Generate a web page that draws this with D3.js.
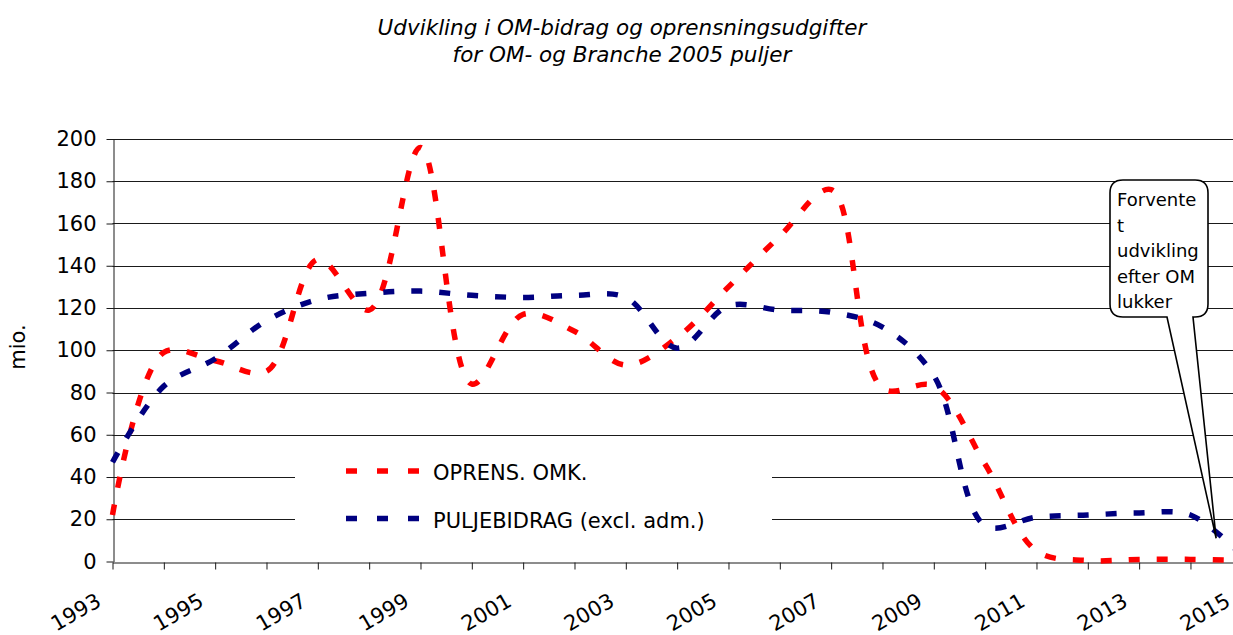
<!DOCTYPE html>
<html>
<head>
<meta charset="utf-8">
<script src="https://cdnjs.cloudflare.com/ajax/libs/d3/7.8.5/d3.min.js"></script>
<style>
  html, body { margin: 0; padding: 0; background: #fff; }
  svg { display: block; font-family: "DejaVu Sans", Verdana, sans-serif; }
</style>
</head>
<body>
<div id="chart"></div>
<script>
// data (mio.)
var years = [1993, 1994, 1995, 1996, 1997, 1998, 1999, 2000, 2001, 2002, 2003, 2004,
             2005, 2006, 2007, 2008, 2009, 2010, 2011, 2012, 2013, 2014, 2015];
var oprensOmk = [22, 99, 95, 90, 143, 119, 196, 84, 117, 109, 93, 106,
                 130, 154, 176, 82, 83, 46, 5, 0.5, 1, 1, 0.5];
var puljebidrag = [47, 83, 96, 114, 124, 127, 128, 126, 125, 126, 125, 101,
                   121, 119, 118, 111, 88, 17, 21, 22, 23, 22, 3];
var labelYears = [1993, 1995, 1997, 1999, 2001, 2003, 2005, 2007, 2009, 2011, 2013, 2015];
var yTicks = [0, 20, 40, 60, 80, 100, 120, 140, 160, 180, 200];
var seriesNames = ["OPRENS. OMK.", "PULJEBIDRAG (excl. adm.)"];
var titleLines = ["Udvikling i OM-bidrag og oprensningsudgifter", "for OM- og Branche 2005 puljer"];
var calloutLines = ["Forvente", "t", "udvikling", "efter OM", "lukker"];

var width = 1233, height = 635;
var colors = ["#ff0000", "#000080"];

var svg = d3.select("#chart").append("svg")
    .attr("width", width)
    .attr("height", height);

// plot area runs past the right edge, like the cropped original
var x = d3.scaleLinear().domain([1993, 2015]).range([112.5, 1241.8]);
var y = d3.scaleLinear().domain([0, 200]).range([561.5, 139]);

// title
svg.append("g").selectAll("text")
    .data(titleLines)
    .enter().append("text")
    .attr("x", 622)
    .attr("y", function(d, i) { return 35 + i * 27; })
    .attr("text-anchor", "middle")
    .style("font-style", "italic")
    .style("font-size", "21.5px")
    .text(function(d) { return d; });

// gridlines
svg.append("g").selectAll("line")
    .data(yTicks.filter(function(d) { return d > 0; }))
    .enter().append("line")
    .attr("x1", x(1993)).attr("x2", x(2015))
    .attr("y1", function(d) { return Math.round(y(d)) + 0.5; })
    .attr("y2", function(d) { return Math.round(y(d)) + 0.5; })
    .attr("stroke", "#1a1a1a")
    .attr("stroke-width", 1);

// y axis
var yAxis = svg.append("g")
    .attr("transform", "translate(" + (Math.round(x(1993)) + 0.5) + ",0)")
    .call(d3.axisLeft(y).tickValues(yTicks).tickSize(7).tickSizeOuter(0).tickPadding(10));
yAxis.selectAll("text").style("font-size", "21px").style("font-family", "DejaVu Sans, Verdana, sans-serif").attr("fill", "#000");
yAxis.selectAll("line,path").attr("stroke", "#1a1a1a");

svg.append("text")
    .attr("transform", "translate(25,347) rotate(-90)")
    .attr("text-anchor", "middle")
    .style("font-size", "21px")
    .text("mio.");

// x axis
var xAxis = svg.append("g")
    .attr("transform", "translate(0," + (Math.round(y(0)) + 0.5) + ")")
    .call(d3.axisBottom(x).tickValues(years).tickSize(7).tickSizeOuter(0).tickFormat(""));
xAxis.selectAll("line,path").attr("stroke", "#1a1a1a");

svg.append("g").selectAll("text")
    .data(labelYears)
    .enter().append("text")
    .attr("transform", function(d) { return "translate(" + (x(d) - 10) + ",605) rotate(-30)"; })
    .attr("text-anchor", "end")
    .style("font-size", "21px")
    .text(function(d) { return d; });

// legend (white box over the gridlines)
var legend = svg.append("g");
legend.append("rect")
    .attr("x", 295).attr("y", 446)
    .attr("width", 477).attr("height", 100)
    .attr("fill", "#fff");
seriesNames.forEach(function(name, i) {
    var ly = 471 + i * 47.5;
    legend.append("line")
        .attr("x1", 346).attr("x2", 420)
        .attr("y1", ly).attr("y2", ly)
        .attr("stroke", colors[i])
        .attr("stroke-width", 5.5)
        .attr("stroke-dasharray", "11,20");
    legend.append("text")
        .attr("x", 433).attr("y", ly + 9)
        .style("font-size", "21px")
        .text(name);
});

// series lines
var line = d3.line()
    .x(function(d) { return x(d[0]); })
    .y(function(d) { return y(d[1]); })
    .curve(d3.curveCatmullRom.alpha(0.5));

[oprensOmk, puljebidrag].forEach(function(values, i) {
    svg.append("path")
        .datum(years.map(function(yr, j) { return [yr, values[j]]; }))
        .attr("d", line)
        .attr("fill", "none")
        .attr("stroke", colors[i])
        .attr("stroke-width", 5.5)
        .attr("stroke-dasharray", "11,17");
});

// callout
var bx0 = 1110, by0 = 180, bx1 = 1208, by1 = 317, r = 13;
var tipX = x(2014.5), tipY = y(11);
var calloutPath = "M" + (bx0 + r) + "," + by0 +
    " H" + (bx1 - r) + " Q" + bx1 + "," + by0 + " " + bx1 + "," + (by0 + r) +
    " V" + (by1 - r) + " Q" + bx1 + "," + by1 + " " + (bx1 - r) + "," + by1 +
    " H1193 L" + tipX + "," + tipY + " L1167," + by1 +
    " H" + (bx0 + r) + " Q" + bx0 + "," + by1 + " " + bx0 + "," + (by1 - r) +
    " V" + (by0 + r) + " Q" + bx0 + "," + by0 + " " + (bx0 + r) + "," + by0 + " Z";
svg.append("path")
    .attr("d", calloutPath)
    .attr("fill", "#fff")
    .attr("stroke", "#000")
    .attr("stroke-width", 1.6);
svg.append("g").selectAll("text")
    .data(calloutLines)
    .enter().append("text")
    .attr("x", 1117)
    .attr("y", function(d, i) { return 206 + i * 25.6; })
    .style("font-size", "18px")
    .text(function(d) { return d; });
</script>
</body>
</html>
